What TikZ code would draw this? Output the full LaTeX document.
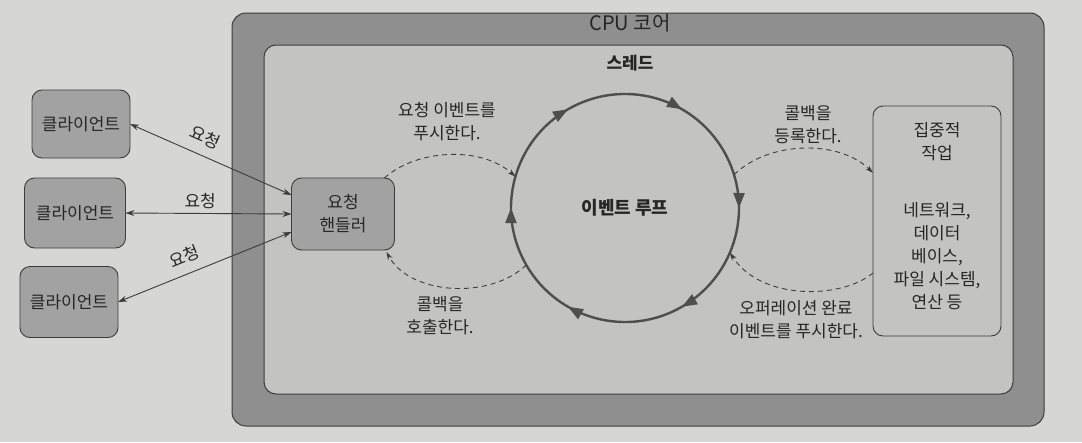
\documentclass[tikz,border=0pt]{standalone}
\usepackage{fontspec}
\setmainfont{Noto Sans CJK KR}
\usetikzlibrary{arrows.meta,calc,decorations.markings}
\definecolor{pagebg}{HTML}{D6D6D4}
\definecolor{cpufill}{HTML}{8F8F8F}
\definecolor{thfill}{HTML}{C3C3C2}
\definecolor{boxfill}{HTML}{A2A2A2}
\definecolor{edge}{HTML}{3C3C3C}
\definecolor{txt}{HTML}{262626}
\definecolor{loopc}{HTML}{4E4E4E}
\newcommand\mytxt{\fontsize{17}{23}\selectfont}
\begin{document}
\begin{tikzpicture}[x=1pt,y=-1pt,
  box/.style={draw=edge, fill=boxfill, rounded corners=10pt, line width=0.9pt, align=center, inner sep=0pt, outer sep=0pt, text=txt, font=\mytxt},
  lbl/.style={align=center, text=txt, font=\mytxt, inner sep=1pt},
  reqline/.style={draw=edge, line width=0.9pt, {Stealth[length=9pt,width=6pt]}-{Stealth[length=9pt,width=6pt]}},
  dashline/.style={draw=edge, line width=0.9pt, dash pattern=on 5pt off 4pt, -{Stealth[length=8pt,width=5pt]}},
  looparrow/.style={draw=loopc, line width=2.4pt,
    postaction={decorate},
    decoration={markings,
      mark=at position 1/12 with {\arrow{Triangle[length=15pt,width=11pt]}},
      mark=at position 3/12 with {\arrow{Triangle[length=15pt,width=11pt]}},
      mark=at position 5/12 with {\arrow{Triangle[length=15pt,width=11pt]}},
      mark=at position 7/12 with {\arrow{Triangle[length=15pt,width=11pt]}},
      mark=at position 9/12 with {\arrow{Triangle[length=15pt,width=11pt]}},
      mark=at position 11/12 with {\arrow{Triangle[length=15pt,width=11pt]}}}}
]
\useasboundingbox[fill=pagebg] (0,0) rectangle (1082,442);
% CPU core
\draw[draw=edge, fill=cpufill, line width=1pt, rounded corners=14pt] (232,13) rectangle (1044,426);
\node[text=txt, font=\fontsize{20}{24}\selectfont] (cputitle) at (630,23) {CPU 코어};
% thread
\draw[draw=edge, fill=thfill, line width=1pt, rounded corners=12pt] (264,45) rectangle (1013,394);
\node[text=txt, font=\fontsize{17}{23}\selectfont\bfseries] (thtitle) at (630,63) {스레드};
% clients
\node[box, minimum width=98pt, minimum height=68pt] (c1) at (81,124) {클라이언트};
\node[box, minimum width=101pt, minimum height=70pt] (c2) at (75,213) {클라이언트};
\node[box, minimum width=98pt, minimum height=71pt] (c3) at (69,302) {클라이언트};
% handler
\node[box, minimum width=103pt, minimum height=72pt] (h) at (343,214) {요청\\핸들러};
% job
\node[box, fill=none, minimum width=128pt, minimum height=230pt] (job) at (937,221) {};
\node[lbl] (jobt) at (937,142) {집중적\\작업};
\node[lbl] (jobd) at (937,256) {네트워크,\\데이터\\베이스,\\파일 시스템,\\연산 등};
% event loop
\node[circle, minimum size=228pt, inner sep=0pt, outer sep=0pt, text=txt, font=\fontsize{18}{22}\selectfont\bfseries] (loop) at (625,208) {이벤트 루프};
\draw[looparrow] (loop.30) arc[start angle=30, end angle=-330, radius=114pt];
% client arrows
\draw[reqline] (c1.east) -- node[lbl, sloped, above=9pt, pos=0.42] (r1) {요청} ($(h.west)+(0,-19)$);
\draw[reqline] (c2.east) -- node[lbl, above=3pt, pos=0.45] (r2) {요청} (h.west);
\draw[reqline] (c3.east) -- node[lbl, sloped, above=8pt, pos=0.42] (r3) {요청} ($(h.west)+(0,18)$);
% dashed arcs
\draw[dashline] ($(h.north east)+(-10,0)$) .. controls (415,150) and (480,145) .. (loop.164);
\draw[dashline] (loop.-150) .. controls (490,300) and (410,295) .. ($(h.south east)+(-8,2)$);
\draw[dashline] (loop.17) .. controls (770,140) and (840,140) .. ($(job.west)+(0,-48)$);
\draw[dashline] ($(job.west)+(0,52)$) .. controls (840,300) and (760,300) .. (loop.-23);
% labels
\node[lbl] (l1) at (447,122) {요청 이벤트를\\푸시한다.};
\node[lbl] (l2) at (440,316) {콜백을\\호출한다.};
\node[lbl] (l3) at (808,125) {콜백을\\등록한다.};
\node[lbl] (l4) at (796,320) {오퍼레이션 완료\\이벤트를 푸시한다.};
\end{tikzpicture}
\end{document}
